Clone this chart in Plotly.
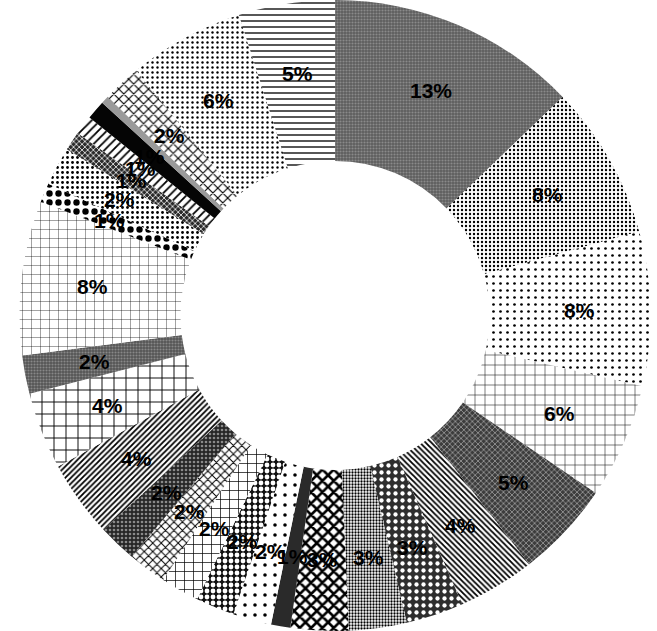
import math
import plotly.graph_objects as go

# Share of each category, listed clockwise from 12 o'clock
categories = [
    "A", "B", "C", "D", "E", "F", "G", "H", "I", "J",
    "K", "L", "M", "N", "O", "P", "Q", "R", "S", "T",
    "U", "V", "W", "X", "Y", "Z", "AA", "AB",
]
values = [
    13, 8, 8, 6, 5, 4, 3, 3, 3, 1,
    2, 2, 2, 2, 2, 4, 4, 2, 8, 1,
    2, 1, 1, 1, 0.4, 2, 6, 5,
]
# slices whose percentage is printed (the thin grey stripe carries no label)
show_label = [v >= 1 for v in values]

# monochrome fill for each slice: background, pattern shape, foreground, size, solidity
bg = [
    "#5e5e5e", "#ffffff", "#ffffff", "#ffffff", "#3c3c3c", "#ffffff", "#2e2e2e", "#ffffff", "#ffffff", "#2a2a2a",
    "#ffffff", "#111111", "#ffffff", "#ffffff", "#262626", "#ffffff", "#ffffff", "#555555", "#ffffff", "#ffffff",
    "#ffffff", "#2a2a2a", "#ffffff", "#050505", "#9a9a9a", "#ffffff", "#ffffff", "#ffffff",
]
shapes = [
    ".", ".", ".", "+", "x", "\\", ".", ".", "x", "",
    ".", ".", "+", "x", ".", "/", "+", ".", "+", ".",
    ".", "x", "/", "", "", "x", ".", "-",
]
fg = [
    "#8a8a8a", "#000000", "#000000", "#000000", "#a0a0a0", "#000000", "#ffffff", "#000000", "#000000", "#000000",
    "#000000", "#ffffff", "#000000", "#000000", "#8a8a8a", "#000000", "#000000", "#888888", "#000000", "#000000",
    "#000000", "#ffffff", "#000000", "#000000", "#000000", "#000000", "#000000", "#000000",
]
sizes = [
    3, 4, 7, 10, 4, 4, 7, 3, 8, 6,
    10, 6, 9, 6, 4, 4, 12, 3, 9, 9,
    5, 4, 6, 6, 6, 7, 5, 6,
]
solidity = [
    0.4, 0.28, 0.12, 0.1, 0.35, 0.45, 0.3, 0.45, 0.55, 0.3,
    0.1, 0.5, 0.15, 0.3, 0.35, 0.45, 0.15, 0.4, 0.08, 0.4,
    0.25, 0.35, 0.3, 0.3, 0.3, 0.3, 0.18, 0.22,
]

# pie geometry (paper coordinates)
DOMAIN_X = [0.026, 0.994]
DOMAIN_Y = [0.0, 1.0]
W, H = 657, 631
HOLE = 0.49

fig = go.Figure(
    go.Pie(
        labels=categories,
        values=values,
        sort=False,
        direction="clockwise",
        rotation=0,
        hole=HOLE,
        textinfo="none",
        marker=dict(
            colors=bg,
            line=dict(width=0),
            pattern=dict(
                shape=shapes,
                bgcolor=bg,
                fgcolor=fg,
                size=sizes,
                solidity=solidity,
                fillmode="replace",
            ),
        ),
        domain=dict(x=DOMAIN_X, y=DOMAIN_Y),
        showlegend=False,
    )
)

# percentage labels, centred across the ring at each slice's mid-angle
cx = (DOMAIN_X[0] + DOMAIN_X[1]) / 2
cy = (DOMAIN_Y[0] + DOMAIN_Y[1]) / 2
radius_px = min((DOMAIN_X[1] - DOMAIN_X[0]) * W, (DOMAIN_Y[1] - DOMAIN_Y[0]) * H) / 2
label_r = radius_px * 0.775
total = sum(values)
cum = 0.0
for v, show in zip(values, show_label):
    mid = (cum + v / 2) / total * 2 * math.pi
    cum += v
    if not show:
        continue
    fig.add_annotation(
        x=cx + label_r * math.sin(mid) / W,
        y=cy + label_r * math.cos(mid) / H,
        xref="paper",
        yref="paper",
        text=f"<b>{v / total:.0%}</b>",
        showarrow=False,
        font=dict(family="Liberation Sans, Arial, sans-serif", size=21, color="#000000"),
        xanchor="center",
        yanchor="middle",
    )

fig.update_layout(
    width=W,
    height=H,
    margin=dict(l=0, r=0, t=0, b=0),
    paper_bgcolor="#ffffff",
    plot_bgcolor="#ffffff",
)

fig.write_html("out.html")
